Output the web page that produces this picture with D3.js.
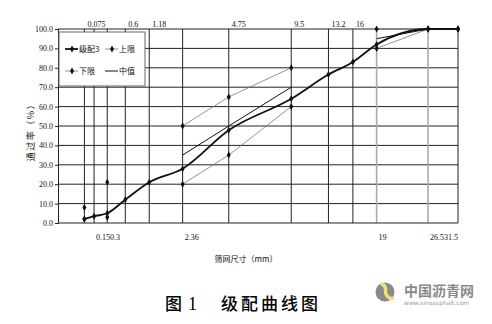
<!DOCTYPE html>
<html lang="zh">
<head>
<meta charset="UTF-8">
<title>级配曲线图</title>
<style>
  body { margin: 0; background: #fff; }
  svg { display: block; }
</style>
</head>
<body>
<svg id="chart" width="492" height="324"></svg>
<script src="https://d3js.org/d3.v7.min.js"></script>
<script>
// sieve sizes (mm)
const sieves = [0.075, 0.15, 0.3, 0.6, 1.18, 2.36, 4.75, 9.5, 13.2, 16, 19, 26.5, 31.5];
// passing percentages, null = no value at that sieve
const grading3 = [2.0, 3.5, 5.0, 12.0, 21.0, 28.0, 47.8, 64.0, 76.5, 83.0, 92.0, 100, 100];
const upper = [8, null, 21, null, null, 50, 65, 80, null, null, 100, 100, 100];
const lower = [2, null, 3, null, null, 20, 35, 60, null, null, 90, 100, 100];
const middle = [5, null, 12, null, null, 35, 50, 70, null, null, 95, 100, 100];
// labels as they appear above / below the plot
const topLabels = [[0.075, "0.075"], [0.6, "0.6"], [1.18, "1.18"], [4.75, "4.75"], [9.5, "9.5"], [13.2, "13.2"], [16, "16"]];
const bottomLabels = [[0.15, "0.150.3"], [2.36, "2.36"], [19, "19"], [26.5, "26.531.5"]];
const yTicks = d3.range(0, 101, 10);

const svg = d3.select("#chart");
const serif = "'Liberation Serif', 'DejaVu Serif', serif";
const cjk = "'Noto Sans CJK SC', sans-serif";

const x = d3.scalePow().exponent(0.45).domain([0, 31.5]).range([58, 458]);
const y = d3.scaleLinear().domain([0, 100]).range([223, 29]);

svg.append("rect").attr("width", 492).attr("height", 324).attr("fill", "#fff");

// horizontal grid
svg.append("g").selectAll("line").data(yTicks.filter(d => d > 0)).join("line")
  .attr("x1", x(0)).attr("x2", x(31.5))
  .attr("y1", d => y(d)).attr("y2", d => y(d))
  .attr("stroke", "#222").attr("stroke-width", 1);

// vertical grid at each sieve (19 and 26.5 drawn lighter)
svg.append("g").selectAll("line").data(sieves).join("line")
  .attr("x1", d => x(d)).attr("x2", d => x(d))
  .attr("y1", y(0)).attr("y2", y(100))
  .attr("stroke", d => (d === 19 || d === 26.5) ? "#aaa" : "#222")
  .attr("stroke-width", d => (d === 19 || d === 26.5) ? 1.6 : 1);

// axes
const yAxis = svg.append("g").attr("transform", `translate(${x(0)},0)`)
  .call(d3.axisLeft(y).tickValues(yTicks).tickFormat(d3.format(".1f")).tickSize(3).tickPadding(2));
yAxis.select(".domain").attr("stroke", "#222");
yAxis.selectAll("line").attr("stroke", "#222");
yAxis.selectAll("text").attr("font-family", serif).attr("font-size", 8).attr("fill", "#111");

svg.append("line").attr("x1", x(0)).attr("x2", x(31.5)).attr("y1", y(0)).attr("y2", y(0))
  .attr("stroke", "#222");

// sieve labels
svg.append("g").selectAll("text").data(topLabels).join("text")
  .attr("x", d => x(d[0]) + 3).attr("y", 27)
  .attr("font-family", serif).attr("font-size", 8).attr("fill", "#111")
  .text(d => d[1]);
svg.append("g").selectAll("text").data(bottomLabels).join("text")
  .attr("x", d => x(d[0]) + 2).attr("y", 240)
  .attr("font-family", serif).attr("font-size", 8).attr("fill", "#111")
  .text(d => d[1]);

// series
function pts(vals) {
  return sieves.map((s, i) => ({ s: s, v: vals[i] }));
}
const segLine = d3.line().defined(d => d.v != null).x(d => x(d.s)).y(d => y(d.v));
const smooth = d3.line().x(d => x(d.s)).y(d => y(d.v)).curve(d3.curveMonotoneX);
const diamond = d3.symbol().type(d3.symbolDiamond).size(14);

function drawSeries(vals, gen, color, width, marker) {
  const data = pts(vals);
  svg.append("path").datum(data).attr("d", gen)
    .attr("fill", "none").attr("stroke", color).attr("stroke-width", width);
  if (marker) {
    svg.append("g").selectAll("path").data(data.filter(d => d.v != null)).join("path")
      .attr("transform", d => `translate(${x(d.s)},${y(d.v)})`)
      .attr("d", diamond).attr("fill", "#111");
  }
}
drawSeries(upper, segLine, "#777", 0.8, true);
drawSeries(lower, segLine, "#777", 0.8, true);
drawSeries(middle, segLine, "#111", 1, false);
drawSeries(grading3, smooth, "#111", 1.8, true);

// legend
const lg = svg.append("g");
lg.append("rect").attr("x", 59).attr("y", 32).attr("width", 86).attr("height", 54)
  .attr("fill", "#fff").attr("stroke", "#666").attr("stroke-width", 1);
const legendItems = [
  { name: "级配3", lx: 65, ly: 49, w: 1.8, c: "#111", m: true },
  { name: "上限", lx: 105, ly: 49, w: 0.8, c: "#777", m: true },
  { name: "下限", lx: 65, ly: 71, w: 0.8, c: "#777", m: true },
  { name: "中值", lx: 105, ly: 71, w: 1, c: "#111", m: false }
];
legendItems.forEach(it => {
  lg.append("line").attr("x1", it.lx).attr("x2", it.lx + 13).attr("y1", it.ly).attr("y2", it.ly)
    .attr("stroke", it.c).attr("stroke-width", it.w);
  if (it.m) lg.append("path").attr("transform", `translate(${it.lx + 7},${it.ly})`)
    .attr("d", diamond).attr("fill", "#111");
  lg.append("text").attr("x", it.lx + 14).attr("y", it.ly + 3)
    .attr("font-family", cjk).attr("font-size", 8).attr("fill", "#111").text(it.name);
});

// axis titles
svg.append("text").attr("transform", "translate(34,130) rotate(-90)")
  .attr("text-anchor", "middle").attr("font-family", cjk).attr("font-size", 9)
  .attr("letter-spacing", 1.5).attr("fill", "#111")
  .text("通过率（%）");
svg.append("text").attr("x", 246).attr("y", 262).attr("text-anchor", "middle")
  .attr("font-family", cjk).attr("font-size", 8).attr("fill", "#111")
  .text("筛网尺寸（mm）");

// caption
svg.append("text").attr("x", 165).attr("y", 310)
  .attr("font-family", cjk).attr("font-size", 17).attr("font-weight", 500).attr("fill", "#000")
  .text("图");
svg.append("text").attr("x", 188).attr("y", 310)
  .attr("font-family", serif).attr("font-size", 18).attr("fill", "#000")
  .text("1");
svg.append("text").attr("x", 221).attr("y", 310)
  .attr("font-family", cjk).attr("font-size", 17).attr("font-weight", 500)
  .attr("letter-spacing", 3).attr("fill", "#000")
  .text("级配曲线图");

// watermark
const wm = svg.append("g");
wm.append("circle").attr("cx", 385).attr("cy", 292).attr("r", 9.5).attr("fill", "#8a8a8a");
wm.append("path").attr("d", "M381,284 C389,286 383,292 387,296 C389,298 392,299 394,298")
  .attr("fill", "none").attr("stroke", "#f0e07a").attr("stroke-width", 3.5);
wm.append("text").attr("x", 404).attr("y", 296)
  .attr("font-family", cjk).attr("font-size", 14).attr("font-weight", 700).attr("fill", "#8a8a8a")
  .text("中国沥青网");
wm.append("text").attr("x", 404).attr("y", 305)
  .attr("font-family", "'DejaVu Sans', sans-serif").attr("font-size", 6).attr("fill", "#999")
  .text("www.sinoasphalt.com");
</script>
</body>
</html>
